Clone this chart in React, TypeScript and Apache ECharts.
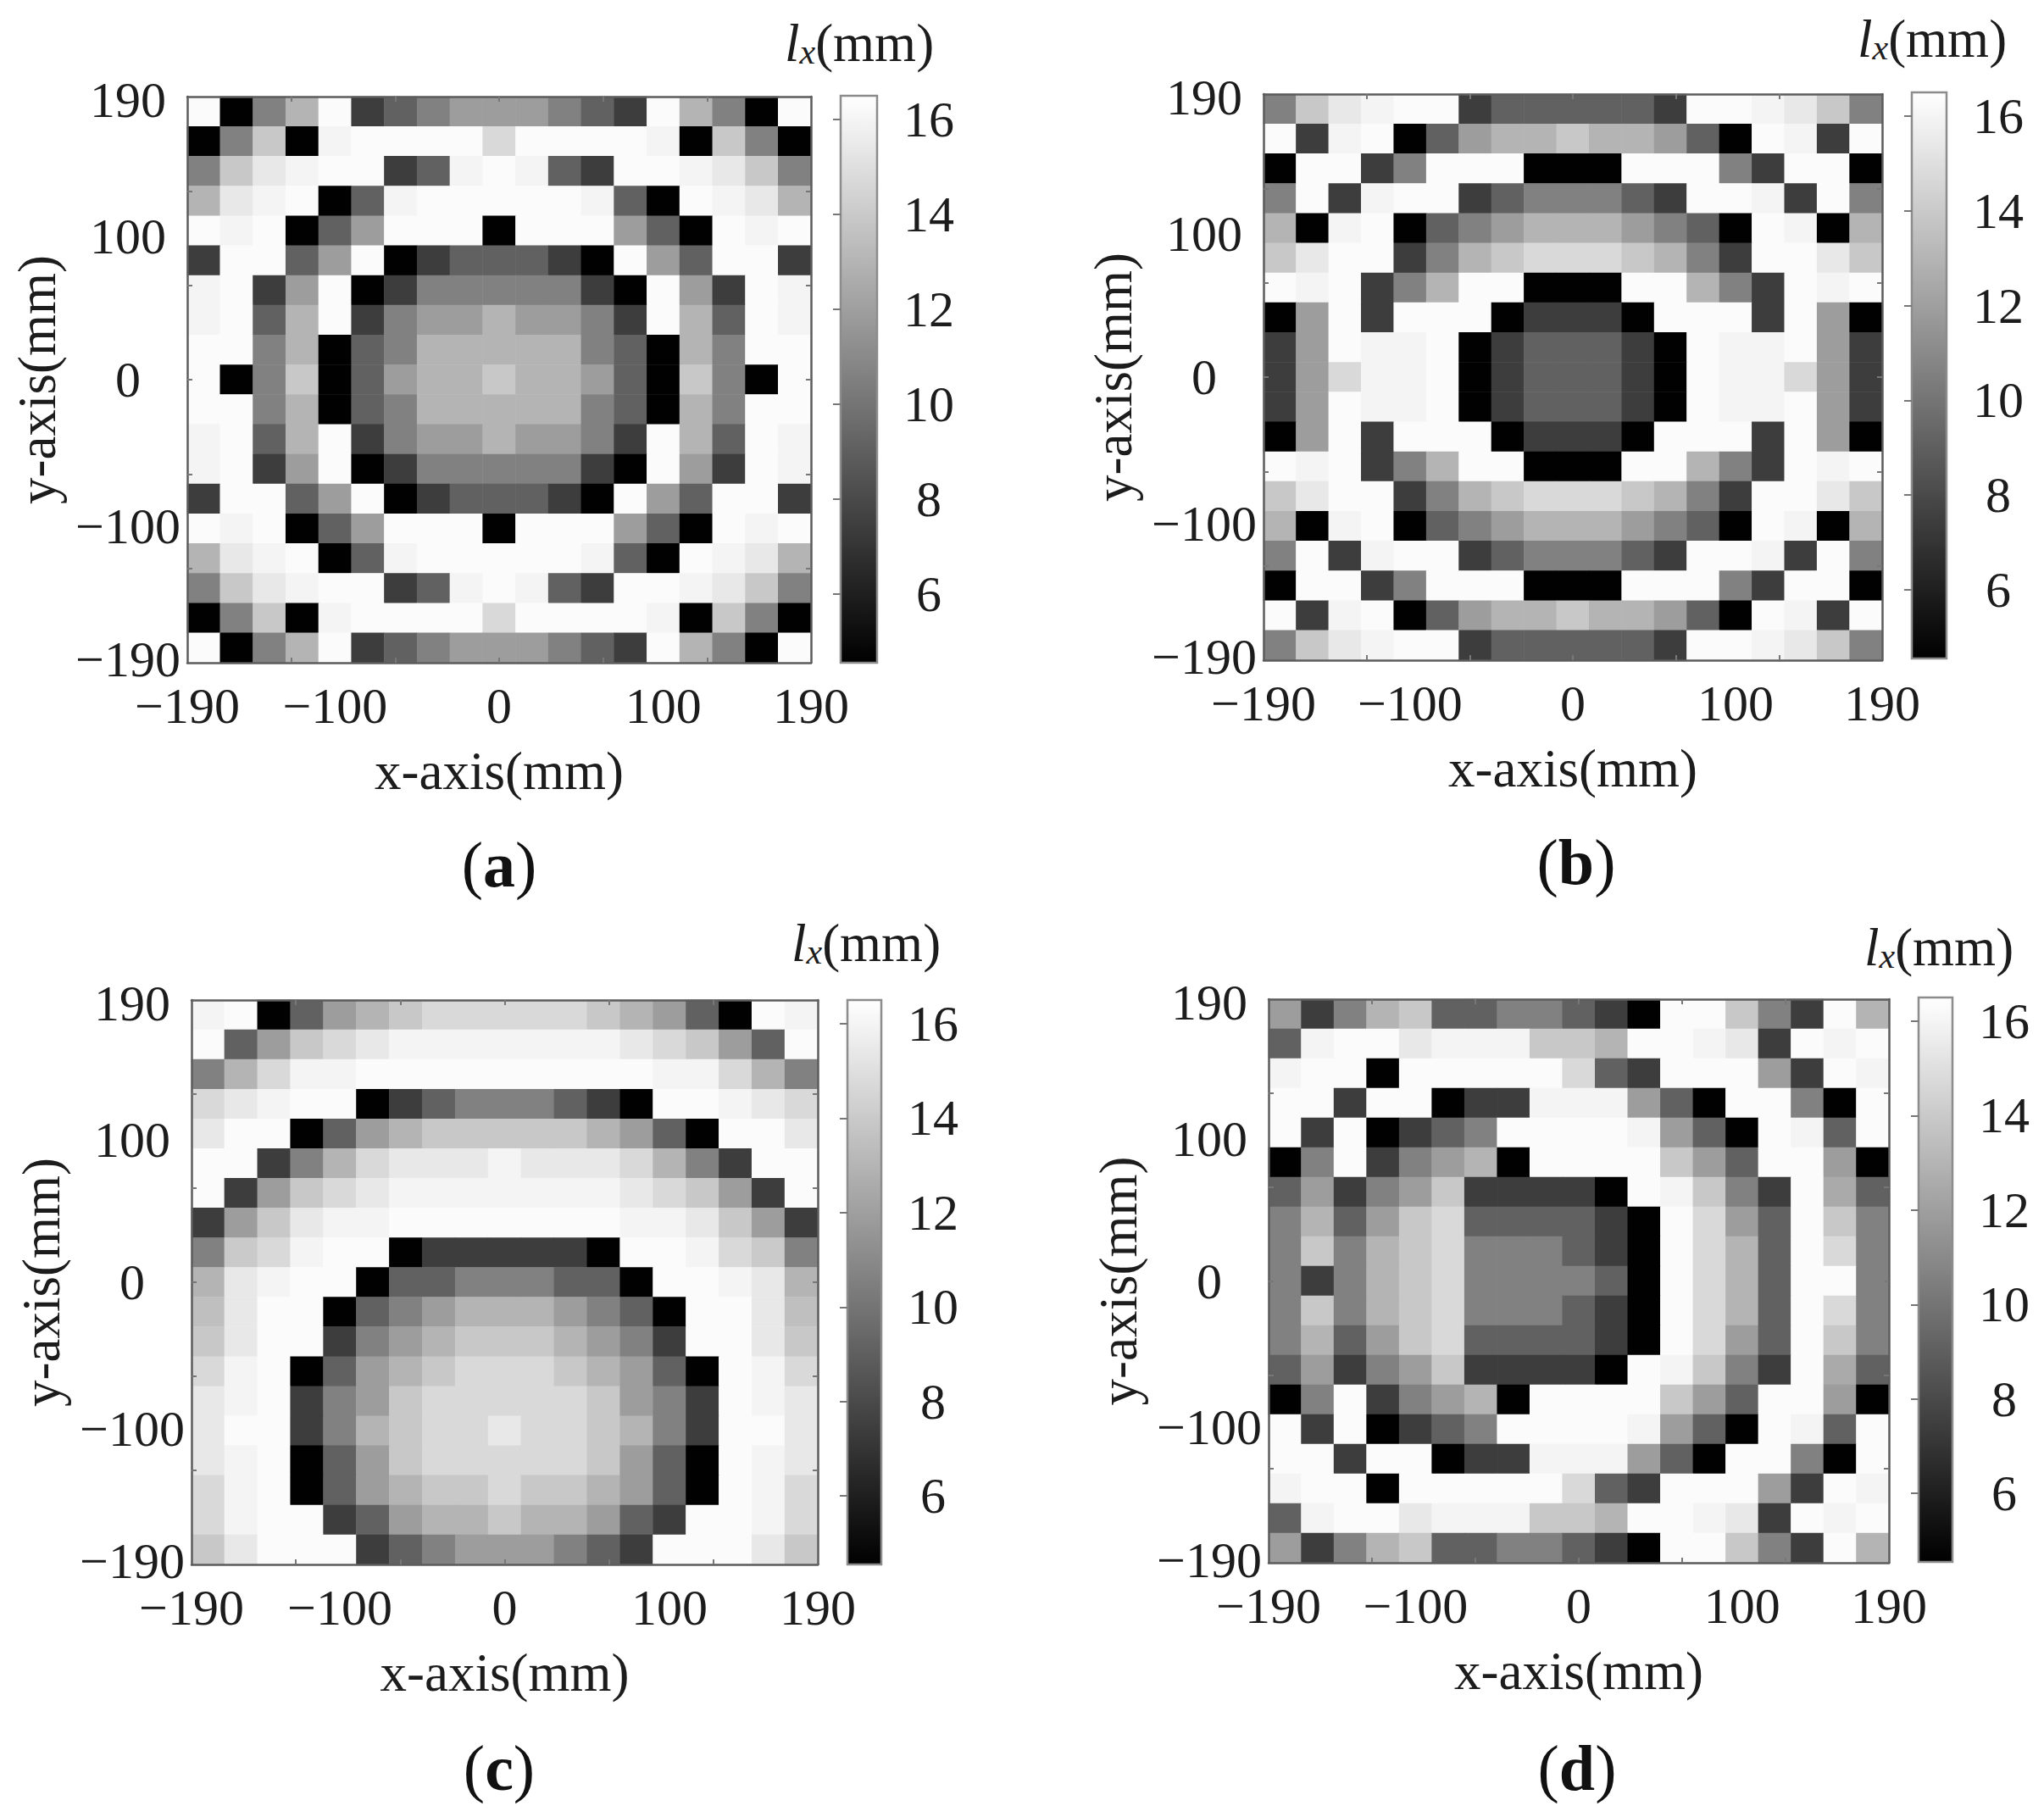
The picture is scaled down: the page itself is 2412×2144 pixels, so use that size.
import React, { useEffect, useRef } from "react";
import * as echarts from "echarts";

const panelA: number[][] = [
  [16.3,4.6,10.6,13,16.3,7.4,9.1,10.6,11.9,11.9,11.9,10.6,9.1,7.4,16.3,13,10.6,4.6,16.3],
  [4.6,10.6,13.9,4.6,16,16.3,16.3,16.3,16.3,14.7,16.3,16.3,16.3,16.3,16,4.6,13.9,10.6,4.6],
  [10.6,13.9,15.4,16,16.3,16.3,7.4,9.1,16,16.3,16,9.1,7.4,16.3,16.3,16,15.4,13.9,10.6],
  [13,15.4,16,16.3,4.6,9.1,16,16.3,16.3,16.3,16.3,16.3,16,9.1,4.6,16.3,16,15.4,13],
  [16.3,16,16.3,4.6,9.1,11.9,16.3,16.3,16.3,4.6,16.3,16.3,16.3,11.9,9.1,4.6,16.3,16,16.3],
  [7.4,16.3,16.3,9.1,11.9,16.3,4.6,7.4,9.1,9.1,9.1,7.4,4.6,16.3,11.9,9.1,16.3,16.3,7.4],
  [16,16.3,7.4,11.9,16.3,4.6,7.4,10.6,10.6,10.6,10.6,10.6,7.4,4.6,16.3,11.9,7.4,16.3,16],
  [16,16.3,9.1,13,16.3,7.4,10.6,11.9,11.9,13,11.9,11.9,10.6,7.4,16.3,13,9.1,16.3,16],
  [16.3,16.3,10.6,13,4.6,9.1,10.6,13,13,13,13,13,10.6,9.1,4.6,13,10.6,16.3,16.3],
  [16.3,4.6,10.6,13.9,4.6,9.1,11.9,13,13,13.9,13,13,11.9,9.1,4.6,13.9,10.6,4.6,16.3],
  [16.3,16.3,10.6,13,4.6,9.1,10.6,13,13,13,13,13,10.6,9.1,4.6,13,10.6,16.3,16.3],
  [16,16.3,9.1,13,16.3,7.4,10.6,11.9,11.9,13,11.9,11.9,10.6,7.4,16.3,13,9.1,16.3,16],
  [16,16.3,7.4,11.9,16.3,4.6,7.4,10.6,10.6,10.6,10.6,10.6,7.4,4.6,16.3,11.9,7.4,16.3,16],
  [7.4,16.3,16.3,9.1,11.9,16.3,4.6,7.4,9.1,9.1,9.1,7.4,4.6,16.3,11.9,9.1,16.3,16.3,7.4],
  [16.3,16,16.3,4.6,9.1,11.9,16.3,16.3,16.3,4.6,16.3,16.3,16.3,11.9,9.1,4.6,16.3,16,16.3],
  [13,15.4,16,16.3,4.6,9.1,16,16.3,16.3,16.3,16.3,16.3,16,9.1,4.6,16.3,16,15.4,13],
  [10.6,13.9,15.4,16,16.3,16.3,7.4,9.1,16,16.3,16,9.1,7.4,16.3,16.3,16,15.4,13.9,10.6],
  [4.6,10.6,13.9,4.6,16,16.3,16.3,16.3,16.3,14.7,16.3,16.3,16.3,16.3,16,4.6,13.9,10.6,4.6],
  [16.3,4.6,10.6,13,16.3,7.4,9.1,10.6,11.9,11.9,11.9,10.6,9.1,7.4,16.3,13,10.6,4.6,16.3],
];

const panelB: number[][] = [
  [10.6,13.9,15.4,16,16.3,16.3,7.4,9.1,9.1,9.1,9.1,9.1,7.4,16.3,16.3,16,15.4,13.9,10.6],
  [16.3,7.4,16,16.3,4.6,9.1,11.9,13,13,13.9,13,13,11.9,9.1,4.6,16.3,16,7.4,16.3],
  [4.6,16.3,16.3,7.4,10.6,16.3,16.3,16.3,4.6,4.6,4.6,16.3,16.3,16.3,10.6,7.4,16.3,16.3,4.6],
  [10.6,16.3,7.4,16,16.3,16.3,7.4,9.1,10.6,10.6,10.6,9.1,7.4,16.3,16.3,16,7.4,16.3,10.6],
  [13,4.6,16,16.3,4.6,9.1,10.6,11.9,13,13,13,11.9,10.6,9.1,4.6,16.3,16,4.6,13],
  [13.9,15.4,16.3,16.3,7.4,10.6,13,13.9,14.7,14.7,14.7,13.9,13,10.6,7.4,16.3,16.3,15.4,13.9],
  [16.3,16,16.3,7.4,10.6,13,16.3,16.3,4.6,4.6,4.6,16.3,16.3,13,10.6,7.4,16.3,16,16.3],
  [4.6,11.9,16.3,7.4,16.3,16.3,16.3,4.6,7.4,7.4,7.4,4.6,16.3,16.3,16.3,7.4,16.3,11.9,4.6],
  [7.4,11.9,16.3,16,16,16.3,4.6,7.4,9.1,9.1,9.1,7.4,4.6,16.3,16,16,16.3,11.9,7.4],
  [7.4,11.9,14.7,16,16,16.3,4.6,7.4,9.1,9.1,9.1,7.4,4.6,16.3,16,16,14.7,11.9,7.4],
  [7.4,11.9,16.3,16,16,16.3,4.6,7.4,9.1,9.1,9.1,7.4,4.6,16.3,16,16,16.3,11.9,7.4],
  [4.6,11.9,16.3,7.4,16.3,16.3,16.3,4.6,7.4,7.4,7.4,4.6,16.3,16.3,16.3,7.4,16.3,11.9,4.6],
  [16.3,16,16.3,7.4,10.6,13,16.3,16.3,4.6,4.6,4.6,16.3,16.3,13,10.6,7.4,16.3,16,16.3],
  [13.9,15.4,16.3,16.3,7.4,10.6,13,13.9,14.7,14.7,14.7,13.9,13,10.6,7.4,16.3,16.3,15.4,13.9],
  [13,4.6,16,16.3,4.6,9.1,10.6,11.9,13,13,13,11.9,10.6,9.1,4.6,16.3,16,4.6,13],
  [10.6,16.3,7.4,16,16.3,16.3,7.4,9.1,10.6,10.6,10.6,9.1,7.4,16.3,16.3,16,7.4,16.3,10.6],
  [4.6,16.3,16.3,7.4,10.6,16.3,16.3,16.3,4.6,4.6,4.6,16.3,16.3,16.3,10.6,7.4,16.3,16.3,4.6],
  [16.3,7.4,16,16.3,4.6,9.1,11.9,13,13,13.9,13,13,11.9,9.1,4.6,16.3,16,7.4,16.3],
  [10.6,13.9,15.4,16,16.3,16.3,7.4,9.1,9.1,9.1,9.1,9.1,7.4,16.3,16.3,16,15.4,13.9,10.6],
];

const panelC: number[][] = [
  [16,16.3,4.6,9.1,11.9,13,13.9,14.7,14.7,14.7,14.7,14.7,13.9,13,11.9,9.1,4.6,16.3,16],
  [16.3,9.1,11.9,13.9,14.7,15.4,16,16,16,16,16,16,16,15.4,14.7,13.9,11.9,9.1,16.3],
  [10.6,13,14.7,16,16,16.3,16.3,16.3,16.3,16.3,16.3,16.3,16.3,16.3,16,16,14.7,13,10.6],
  [14.7,15.4,16,16.3,16.3,4.6,7.4,9.1,10.6,10.6,10.6,9.1,7.4,4.6,16.3,16.3,16,15.4,14.7],
  [15.4,16.3,16.3,4.6,9.1,11.9,13,13.9,13.9,13.9,13.9,13.9,13,11.9,9.1,4.6,16.3,16.3,15.4],
  [16.3,16.3,7.4,10.6,13,14.7,15.4,15.4,15.4,16,15.4,15.4,15.4,14.7,13,10.6,7.4,16.3,16.3],
  [16.3,7.4,11.9,13.9,14.7,15.4,16,16,16,16,16,16,16,15.4,14.7,13.9,11.9,7.4,16.3],
  [7.4,11.9,13.9,15.4,16,16,16.3,16.3,16.3,16.3,16.3,16.3,16.3,16,16,15.4,13.9,11.9,7.4],
  [10.6,14,14.7,16,16.3,16.3,4.6,7.4,7.4,7.4,7.4,7.4,4.6,16.3,16.3,16,14.7,14,10.6],
  [13,15.4,16,16.3,16.3,4.6,9.1,9.1,10.6,10.6,10.6,9.1,9.1,4.6,16.3,16.3,16,15.4,13],
  [13.5,15.4,16.3,16.3,4.6,9.1,10.6,11.9,13,13,13,11.9,10.6,9.1,4.6,16.3,16.3,15.4,13.5],
  [13.9,15.4,16.3,16.3,7.4,10.6,11.9,13,13.9,13.9,13.9,13,11.9,10.6,7.4,16.3,16.3,15.4,13.9],
  [14.7,16,16.3,4.6,9.1,11.9,13,13.9,14.7,14.7,14.7,13.9,13,11.9,9.1,4.6,16.3,16,14.7],
  [15.4,16,16.3,7.4,10.6,11.9,13.9,14.7,14.7,14.7,14.7,14.7,13.9,11.9,10.6,7.4,16.3,16,15.4],
  [15.4,16.3,16.3,7.4,10.6,13,13.9,14.7,14.7,15.4,14.7,14.7,13.9,13,10.6,7.4,16.3,16.3,15.4],
  [15.4,16,16.3,4.6,9.1,11.9,13.9,14.7,14.7,14.7,14.7,14.7,13.9,11.9,9.1,4.6,16.3,16,15.4],
  [14.7,16,16.3,4.6,9.1,11.9,13,13.9,13.9,14.7,13.9,13.9,13,11.9,9.1,4.6,16.3,16,14.7],
  [14.7,16,16.3,16.3,7.4,9.1,11.9,13,13,13.9,13,13,11.9,9.1,7.4,16.3,16.3,16,14.7],
  [13.9,15.4,16.3,16.3,16.3,7.4,9.1,10.6,11.9,11.9,11.9,10.6,9.1,7.4,16.3,16.3,16.3,15.4,13.9],
];

const panelD: number[][] = [
  [11.9,7.4,10.6,13,13.9,9.1,9.1,10.6,10.6,9.1,7.4,4.6,16.3,16.3,13.9,10.6,7.4,16.3,13],
  [9.1,16,16.3,16.3,15.4,16,16,16,13.9,13.9,13,16.3,16.3,16,15.4,7.4,16.3,16,16.3],
  [16,16.3,16.3,4.6,16.3,16.3,16.3,16.3,16.3,14.7,9.1,7.4,16.3,16.3,16.3,11.9,7.4,16.3,16],
  [16.3,16.3,7.4,16.3,16.3,4.6,7.4,7.4,16,16,16,11.9,9.1,4.6,16.3,16.3,10.6,4.6,16.3],
  [16.3,7.4,16.3,4.6,7.4,9.1,10.6,16.3,16.3,16.3,16.3,16,11.9,9.1,4.6,16.3,16,9.1,16.3],
  [4.6,10.6,16.3,7.4,10.6,11.9,13,4.6,16.3,16.3,16.3,16.3,13.9,11.9,9.1,16.3,16.3,11.9,4.6],
  [9.1,11.9,7.4,10.6,11.9,13.9,7.4,7.4,7.4,7.4,4.6,16.3,16,13.9,10.6,7.4,16.3,12.5,9.1],
  [10.6,13,9.1,11.9,13.9,14.7,9.1,9.1,9.1,9.1,7.4,4.6,16.3,14.7,11.9,9.1,16.3,13.9,10.6],
  [10.6,13.9,10.6,13,13.9,14.7,10.6,10.6,10.6,9.1,7.4,4.6,16.3,14.7,13,9.1,16.3,14.7,10.6],
  [10.6,7.4,10.6,13,13.9,14.7,10.6,10.6,10.6,10.6,9.1,4.6,16.3,14.7,13,9.1,16.3,16.3,10.6],
  [10.6,13.9,10.6,13,13.9,14.7,10.6,10.6,10.6,9.1,7.4,4.6,16.3,14.7,13,9.1,16.3,14.7,10.6],
  [10.6,13,9.1,11.9,13.9,14.7,9.1,9.1,9.1,9.1,7.4,4.6,16.3,14.7,11.9,9.1,16.3,13.9,10.6],
  [9.1,11.9,7.4,10.6,11.9,13.9,7.4,7.4,7.4,7.4,4.6,16.3,16,13.9,10.6,7.4,16.3,12.5,9.1],
  [4.6,10.6,16.3,7.4,10.6,11.9,13,4.6,16.3,16.3,16.3,16.3,13.9,11.9,9.1,16.3,16.3,11.9,4.6],
  [16.3,7.4,16.3,4.6,7.4,9.1,10.6,16.3,16.3,16.3,16.3,16,11.9,9.1,4.6,16.3,16,9.1,16.3],
  [16.3,16.3,7.4,16.3,16.3,4.6,7.4,7.4,16,16,16,11.9,9.1,4.6,16.3,16.3,10.6,4.6,16.3],
  [16,16.3,16.3,4.6,16.3,16.3,16.3,16.3,16.3,14.7,9.1,7.4,16.3,16.3,16.3,11.9,7.4,16.3,16],
  [9.1,16,16.3,16.3,15.4,16,16,16,13.9,13.9,13,16.3,16.3,16,15.4,7.4,16.3,16,16.3],
  [11.9,7.4,10.6,13,13.9,9.1,9.1,10.6,10.6,9.1,7.4,4.6,16.3,16.3,13.9,10.6,7.4,16.3,13],
];

const xLabelValues = [-190, -100, 0, 100, 190];
const yLabelValues = [-188, -98.5, 0, 96, 188];
const axisLabels = ["\u2212190", "\u2212100", "0", "100", "190"];
const axisTickValues = [-126.67, -63.33, 0, 63.33, 126.67];
const colorbarValues = [6, 8, 10, 12, 14, 16];
const colorMin = 4.55;
const colorMax = 16.5;

const FONT = "Liberation Serif";
const TEXT = "#1c1c1c";
const LINE = "#5c5c5c";
const TICK = "#777777";
const LABEL_SIZE = 60;
const NAME_SIZE = 63;

const panels = [
  { data: panelA, tag: "a", box: [221, 114, 957, 782], bar: [992, 113, 1035, 782], unit: [926, 55], cap: [589, 1020] },
  { data: panelB, tag: "b", box: [1491, 111, 2221, 779], bar: [2256, 109, 2297, 777], unit: [2192, 50], cap: [1860, 1017] },
  { data: panelC, tag: "c", box: [226, 1180, 965, 1846], bar: [1000, 1180, 1040, 1846], unit: [934, 1117], cap: [589, 2086] },
  { data: panelD, tag: "d", box: [1497, 1179, 2229, 1844], bar: [2264, 1177, 2304, 1843], unit: [2200, 1122], cap: [1861, 2086] },
];

function buildOption() {
  const grid: any[] = [];
  const xAxis: any[] = [];
  const yAxis: any[] = [];
  const series: any[] = [];
  const visualMap: any[] = [];
  const graphic: any[] = [];
  const cats = Array.from({ length: 19 }, (_, i) => String(i));

  const line = { show: true, onZero: false, lineStyle: { color: LINE, width: 2.5 } };
  const tick = { show: true, inside: true, length: 6, customValues: axisTickValues, lineStyle: { color: TICK, width: 2 } };

  panels.forEach((p, i) => {
    const [l, t, r, b] = p.box;
    grid.push({ left: l, top: t, width: r - l, height: b - t, show: false });
    const baseX = xAxis.length;
    const baseY = yAxis.length;
    xAxis.push({ type: "category", gridIndex: i, data: cats, show: false });
    yAxis.push({ type: "category", gridIndex: i, data: cats, inverse: true, show: false });
    const xLabel = {
      show: true,
      customValues: xLabelValues,
      formatter: (v: number) => axisLabels[xLabelValues.indexOf(v)],
      fontFamily: FONT, fontSize: LABEL_SIZE, color: TEXT, margin: 21, hideOverlap: false,
    };
    const yLabel = {
      show: true,
      customValues: yLabelValues,
      formatter: (v: number) => axisLabels[yLabelValues.indexOf(v)],
      fontFamily: FONT, fontSize: LABEL_SIZE, color: TEXT, align: "center", margin: 70, hideOverlap: false,
    };
    xAxis.push({
      type: "value", gridIndex: i, position: "bottom", min: -190, max: 190, z: 5,
      axisLine: line, axisTick: tick, axisLabel: xLabel, splitLine: { show: false },
      name: "x-axis(mm)", nameLocation: "middle", nameGap: 96, nameMoveOverlap: false,
      nameTextStyle: { fontFamily: FONT, fontSize: NAME_SIZE, color: TEXT },
    });
    xAxis.push({
      type: "value", gridIndex: i, position: "top", min: -190, max: 190, z: 5,
      axisLine: line, axisTick: tick, axisLabel: { show: false }, splitLine: { show: false },
    });
    yAxis.push({
      type: "value", gridIndex: i, position: "left", min: -190, max: 190, z: 5,
      axisLine: line, axisTick: tick, axisLabel: yLabel, splitLine: { show: false },
      name: "y-axis(mm)", nameLocation: "middle", nameGap: 146, nameMoveOverlap: false,
      nameTextStyle: { fontFamily: FONT, fontSize: NAME_SIZE, color: TEXT },
    });
    yAxis.push({
      type: "value", gridIndex: i, position: "right", min: -190, max: 190, z: 5,
      axisLine: line, axisTick: tick, axisLabel: { show: false }, splitLine: { show: false },
    });
    const cells: number[][] = [];
    p.data.forEach((row, ry) => row.forEach((v, cx) => cells.push([cx, ry, v])));
    series.push({
      type: "heatmap", xAxisIndex: baseX, yAxisIndex: baseY, data: cells,
      itemStyle: { borderWidth: 0 }, emphasis: { disabled: true }, silent: true, z: 2,
    });
    const [bl, bt, br, bb] = p.bar;
    visualMap.push({
      type: "continuous", seriesIndex: i, min: colorMin, max: colorMax, show: true,
      calculable: false, hoverLink: false, left: bl, top: bt, padding: 0,
      itemWidth: br - bl, itemHeight: bb - bt, inRange: { color: ["#000000", "#ffffff"] },
    });
    graphic.push({
      type: "text", left: p.unit[0], top: p.unit[1] - 36,
      style: {
        text: "{i|l}{s|x}{n|(mm)}",
        rich: {
          i: { fontFamily: FONT, fontStyle: "italic", fontSize: 63, fill: TEXT, verticalAlign: "bottom", lineHeight: 70 },
          s: { fontFamily: FONT, fontStyle: "italic", fontSize: 42, fill: TEXT, verticalAlign: "bottom", lineHeight: 46 },
          n: { fontFamily: FONT, fontSize: 63, fill: TEXT, verticalAlign: "bottom", lineHeight: 70 },
        },
      },
    });
    graphic.push({
      type: "text", x: p.cap[0], y: p.cap[1],
      style: {
        text: `{n|(}{b|${p.tag}}{n|)}`, align: "center", verticalAlign: "middle",
        rich: {
          n: { fontFamily: FONT, fontSize: 76, fill: "#111111" },
          b: { fontFamily: FONT, fontSize: 76, fontWeight: "bold", fill: "#111111" },
        },
      },
    });
  });

  panels.forEach((p, i) => {
    const [bl, bt, br, bb] = p.bar;
    const g = panels.length + i;
    grid.push({ left: bl, top: bt, width: br - bl, height: bb - bt, show: true, z: 6, backgroundColor: "transparent", borderColor: "#8c8c8c", borderWidth: 2.5 });
    xAxis.push({ type: "value", gridIndex: g, min: 0, max: 1, show: false });
    yAxis.push({
      type: "value", gridIndex: g, position: "right", min: colorMin, max: colorMax, z: 7,
      axisLine: { show: false }, splitLine: { show: false },
      axisTick: { show: true, inside: true, length: 9, customValues: colorbarValues, lineStyle: { color: TICK, width: 2 } },
      axisLabel: {
        show: true, customValues: colorbarValues, align: "center", margin: 61,
        fontFamily: FONT, fontSize: LABEL_SIZE, color: TEXT, hideOverlap: false,
      },
    });
  });

  return { animation: false, backgroundColor: "#ffffff", grid, xAxis, yAxis, series, visualMap, graphic };
}

export default function App() {
  const ref = useRef<HTMLDivElement>(null);
  useEffect(() => {
    document.body.style.margin = "0";
    const chart = echarts.init(ref.current!, undefined, { renderer: "svg" });
    chart.setOption(buildOption() as any);
    return () => chart.dispose();
  }, []);
  return <div ref={ref} style={{ width: 2412, height: 2144 }} />;
}
